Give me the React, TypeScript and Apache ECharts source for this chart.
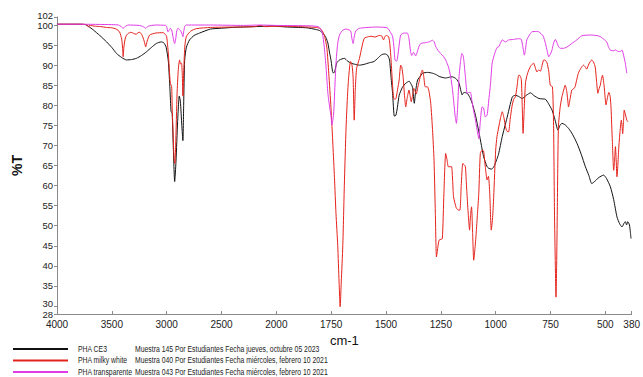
import React, { useEffect, useRef } from "react";
import * as echarts from "echarts";

// Axis tick labels
const xTickLabels = [4000, 3500, 3000, 2500, 2000, 1750, 1500, 1250, 1000, 750, 500, 380];
const yTickLabels = [30, 35, 40, 45, 50, 55, 60, 65, 70, 75, 80, 85, 90, 95, 100];
const yEndLabels = [28, 102];

// Legend
const seriesNames = ["PHA CE3", "PHA milky white", "PHA transparente"];
const seriesDetails = [
  "Muestra 145 Por Estudiantes Fecha jueves, octubre 05 2023",
  "Muestra 040 Por Estudiantes Fecha miércoles, febrero 10 2021",
  "Muestra 043 Por Estudiantes Fecha miércoles, febrero 10 2021",
];
const seriesColors = ["#111111", "#e4221c", "#e03ce6"];

// PHA CE3 (black)
const ce3Wave = [4000, 3900, 3800, 3740, 3710, 3670, 3610, 3548, 3500, 3457, 3410, 3366, 3320, 3276, 3230, 3185, 3140, 3094, 3050, 3027, 3005, 2985, 2970, 2960, 2950, 2940, 2927, 2915, 2900, 2885, 2875, 2862, 2852, 2845, 2836, 2820, 2791, 2750, 2700, 2600, 2500, 2400, 2300, 2200, 2100, 2034, 2000, 1950, 1900, 1860, 1820, 1802, 1785, 1774, 1765, 1757, 1750, 1744, 1739, 1733, 1725, 1712, 1690, 1675, 1660, 1640, 1621, 1600, 1576, 1555, 1538, 1520, 1505, 1493, 1484, 1477, 1470, 1462, 1455, 1448, 1440, 1425, 1410, 1394, 1385, 1379, 1371, 1365, 1356, 1340, 1334, 1310, 1288, 1270, 1258, 1240, 1228, 1210, 1198, 1180, 1167, 1158, 1153, 1145, 1130, 1118, 1107, 1092, 1077, 1065, 1055, 1040, 1032, 1020, 1009, 995, 987, 970, 950, 924, 910, 895, 879, 860, 841, 825, 803, 788, 773, 760, 743, 730, 720, 716, 708, 698, 685, 667, 650, 629, 610, 591, 575, 562, 545, 530, 508, 495, 477, 462, 447, 435, 424, 415, 409, 403, 398, 394, 390, 386, 383];
const ce3T = [100.2, 100.2, 100.2, 100.1, 99.6, 98.8, 97.4, 95.8, 94.4, 92.9, 91.9, 91.3, 91.4, 91.7, 92.4, 93.3, 94.4, 95.4, 95.8, 95.6, 94.5, 91, 84, 78.5, 78, 70, 61, 66, 76, 82.3, 81, 75, 71.2, 80, 91.2, 94.5, 96.3, 97.4, 98.0, 99.0, 99.2, 99.4, 99.5, 99.6, 99.7, 99.8, 99.7, 99.5, 99.4, 99.3, 98.9, 98.6, 97.8, 96.9, 95.5, 93, 91, 88.5, 88, 88.6, 90.5, 91.3, 91.7, 91, 90.5, 90.2, 90.0, 90.2, 90.6, 90.9, 91.7, 92.6, 92.8, 92.5, 91.3, 87, 83, 77.3, 77.5, 79.5, 82.5, 84.5, 85.5, 86, 85.2, 84.5, 80.5, 83.5, 86.3, 87.5, 88.0, 88.2, 88.0, 87.6, 87.2, 86.9, 86.8, 87.0, 87.1, 86.6, 85.5, 83.5, 82.6, 83.2, 83.0, 82, 80.5, 77.5, 73.5, 70, 67.2, 64.8, 64.3, 64.1, 64.6, 66.5, 67.8, 72.2, 76.5, 82.1, 82.5, 82.2, 81.7, 82.5, 83.1, 82.4, 81.7, 81.6, 81.5, 80.5, 78.8, 76.5, 74.3, 73.8, 74.9, 75.5, 75.2, 74.2, 72.8, 70.5, 67.8, 64.7, 62.5, 60.5, 61.2, 62.0, 62.6, 61.8, 59.7, 56.5, 52.2, 50.5, 49.7, 50.6, 51.0, 50.2, 51.0, 50.7, 50.2, 48.5, 46.8];

// PHA milky white (red)
const milkyWave = [4000, 3800, 3730, 3712, 3705, 3650, 3600, 3550, 3500, 3460, 3430, 3410, 3400, 3397, 3390, 3375, 3352, 3325, 3300, 3280, 3260, 3245, 3225, 3205, 3191, 3178, 3155, 3100, 3034, 3010, 3000, 2985, 2967, 2955, 2949, 2940, 2932, 2925, 2918, 2905, 2895, 2888, 2882, 2875, 2865, 2858, 2852, 2845, 2835, 2821, 2780, 2730, 2600, 2400, 2200, 2150, 2100, 2000, 1900, 1820, 1803, 1790, 1780, 1770, 1761, 1751, 1742, 1735, 1728, 1720, 1714, 1709, 1704, 1697, 1690, 1682, 1675, 1670, 1662, 1655, 1650, 1645, 1640, 1634, 1621, 1610, 1599, 1580, 1568, 1550, 1531, 1520, 1511, 1506, 1500, 1488, 1482, 1477, 1470, 1465, 1458, 1454, 1447, 1440, 1433, 1428, 1422, 1415, 1410, 1403, 1395, 1389, 1385, 1379, 1373, 1367, 1362, 1355, 1349, 1340, 1334, 1328, 1321, 1311, 1304, 1296, 1288, 1281, 1275, 1270, 1264, 1258, 1250, 1243, 1236, 1228, 1222, 1216, 1208, 1201, 1196, 1192, 1180, 1170, 1163, 1157, 1150, 1144, 1138, 1134, 1130, 1124, 1119, 1115, 1110, 1105, 1100, 1095, 1089, 1083, 1077, 1070, 1062, 1055, 1047, 1039, 1033, 1027, 1020, 1014, 1009, 1000, 994, 986, 978, 970, 962, 955, 948, 941, 934, 926, 918, 910, 903, 895, 889, 883, 879, 875, 870, 864, 857, 849, 840, 827, 820, 812, 804, 796, 788, 781, 773, 766, 758, 751, 741, 736, 732, 728, 725, 722, 719, 714, 706, 698, 690, 683, 676, 670, 668, 661, 653, 645, 638, 630, 623, 612, 600, 592, 585, 575, 562, 554, 546, 540, 534, 528, 523, 518, 513, 505, 497, 490, 484, 478, 474, 468, 462, 458, 454, 451, 447, 443, 439, 433, 427, 424, 421, 417, 414, 408, 402, 397];
const milkyT = [100.2, 100.2, 100.1, 99.5, 99.9, 99.7, 99.6, 99.4, 99.3, 99.0, 98.3, 96.5, 93.5, 92.1, 94.5, 97, 97.9, 98.2, 97.9, 97.7, 98.1, 98.2, 97.5, 96, 94.6, 96, 97.5, 98.0, 98.1, 97.6, 97.1, 93, 85.5, 84.7, 78.8, 72, 66.5, 65.5, 70, 83, 88.5, 90.5, 91.3, 90.3, 90.5, 88, 82.3, 88, 94.5, 97.1, 98.5, 99.1, 99.4, 99.5, 99.6, 99.9, 99.6, 99.7, 99.6, 99.4, 99.2, 98.5, 97.2, 94.5, 88, 79.5, 70, 62, 53, 45, 36, 29.8, 36, 45, 60, 74.6, 83, 87.1, 90.9, 90, 87, 76.3, 84, 89.2, 91.7, 94.5, 96.7, 97.1, 97.2, 97.0, 97.4, 97.3, 96.3, 97.0, 97.4, 97.1, 95, 91.3, 85, 81.7, 81.5, 81.8, 84, 86.3, 90.0, 89.5, 87.1, 82, 79.6, 82, 83.8, 82, 80.9, 82.5, 84.2, 83.5, 82.8, 84.5, 85.9, 88, 88.8, 87.2, 84.6, 84.6, 83.5, 80.5, 74, 66.3, 53, 42.2, 44.5, 46.4, 46.6, 46.8, 58, 68.0, 66.5, 64.7, 64.7, 64.7, 61, 57.2, 54.5, 53.9, 53.9, 60, 65.5, 65.2, 64.7, 61, 57.2, 52, 48.9, 52.5, 54.7, 48, 41.4, 44, 48.0, 53, 58, 68, 68.8, 68.6, 64.5, 61.4, 62.3, 58, 48.9, 52, 57.2, 68.8, 72.2, 74.6, 76.8, 78.4, 76.8, 74.6, 73.5, 73.4, 76.5, 79.6, 81.5, 82.1, 84.5, 87.5, 87.4, 86.4, 80, 73.0, 79, 85.6, 87.5, 88.8, 89.8, 90.5, 89.5, 88.3, 88.8, 88.5, 90, 91.3, 91.2, 90.6, 88.5, 85.0, 84.6, 75, 53.9, 40, 32.2, 40, 53.9, 74.6, 79.5, 82.1, 83.8, 85.0, 83.5, 80.5, 79.6, 81.5, 83.8, 84.1, 84.6, 86.5, 88.0, 89.2, 90.0, 89.6, 89.0, 90.3, 91.3, 90.8, 89.5, 86, 83.0, 84.2, 85.0, 86.5, 87.5, 84.5, 80.1, 82, 83.2, 82.2, 79.3, 71, 63.8, 66, 69.7, 67, 62.2, 65, 69.2, 73.5, 76.3, 75, 72.9, 76, 78.8, 77.6, 76.3, 75.9];

// PHA transparente (magenta)
const transWave = [4000, 3800, 3500, 3440, 3415, 3397, 3380, 3350, 3250, 3215, 3191, 3170, 3100, 3010, 3000, 2988, 2975, 2967, 2955, 2945, 2935, 2927, 2918, 2908, 2897, 2880, 2867, 2858, 2852, 2845, 2835, 2821, 2600, 2300, 2150, 2000, 1850, 1810, 1795, 1787, 1780, 1772, 1765, 1756, 1750, 1747, 1742, 1738, 1732, 1727, 1720, 1712, 1700, 1683, 1665, 1660, 1655, 1650, 1645, 1638, 1625, 1606, 1550, 1500, 1490, 1482, 1470, 1463, 1459, 1452, 1448, 1440, 1433, 1418, 1403, 1395, 1388, 1383, 1379, 1375, 1371, 1365, 1358, 1350, 1341, 1320, 1303, 1288, 1280, 1273, 1262, 1251, 1240, 1228, 1215, 1205, 1197, 1189, 1184, 1179, 1173, 1167, 1160, 1154, 1148, 1144, 1137, 1130, 1122, 1115, 1108, 1100, 1092, 1085, 1077, 1070, 1062, 1055, 1047, 1039, 1030, 1024, 1016, 1005, 994, 986, 978, 970, 962, 955, 948, 941, 920, 895, 883, 876, 869, 864, 858, 846, 835, 815, 803, 784, 773, 765, 758, 750, 743, 736, 728, 720, 713, 705, 690, 670, 653, 630, 608, 577, 562, 532, 517, 494, 486, 478, 470, 462, 454, 445, 439, 431, 424, 417, 409, 402];
const transT = [100.2, 100.2, 100.1, 100.0, 99.6, 99.2, 99.6, 100.0, 99.9, 99.6, 99.2, 99.7, 100.0, 99.9, 99.6, 98.3, 98.8, 99.2, 98.8, 97.5, 96, 95.4, 96.5, 98.5, 99.2, 98.8, 98.3, 97.6, 97.1, 98.3, 99.7, 100.0, 100.0, 99.9, 100.0, 99.9, 99.8, 99.6, 98.8, 97, 93.8, 88.5, 83, 79.2, 77, 75.1, 76.5, 78.5, 86, 91.3, 95.5, 97.5, 98.6, 99.0, 98.7, 98.3, 96.5, 95.4, 97, 98.5, 99.1, 99.3, 99.5, 99.4, 99.1, 98.4, 97.2, 94, 91.3, 91.0, 91.6, 95, 97.5, 98.0, 98.0, 96.5, 93.4, 92.4, 92.6, 93.2, 93.0, 92.3, 93.2, 94.6, 95.4, 95.6, 95.8, 96.2, 95.8, 94.6, 93.6, 92.9, 92.3, 91.3, 89.5, 87.1, 84, 79.6, 77, 75.5, 80, 87.1, 91, 92.9, 92.3, 90.6, 86.5, 83.0, 83.2, 83.2, 81, 78.5, 76.3, 74, 71.7, 76, 79.6, 79.3, 77.1, 77.6, 82, 85, 90.5, 92.8, 94.4, 94.6, 95.5, 96.3, 96, 95.8, 96, 96.3, 96.4, 96.6, 96.4, 94.5, 92.5, 94, 96.3, 97.5, 98.3, 98.4, 98.3, 97.3, 95.4, 93.5, 92.1, 92.8, 93.8, 95.5, 96.4, 95.5, 94.6, 94.2, 94.2, 94.7, 95.4, 96.3, 97.3, 97.5, 97.5, 97.3, 96.9, 95.8, 94.6, 93.8, 93.6, 93.6, 93.8, 93.5, 93.4, 93.4, 93.8, 92.5, 90.5, 88.0];

// Wavenumber axis: 500 cm-1 per division above 2000, 250 cm-1 per division below
function toPos(w: number): number {
  return w >= 2000 ? (4000 - w) / 500 : 4 + (2000 - w) / 250;
}
function fromPos(p: number): number {
  return p <= 4 ? 4000 - 500 * p : 2000 - 250 * (p - 4);
}

const seriesWaves = [ce3Wave, milkyWave, transWave];
const seriesTs = [ce3T, milkyT, transT];

const FONT = "'Liberation Sans', Arial, Helvetica, sans-serif";

export default function App() {
  const ref = useRef<HTMLDivElement>(null);
  useEffect(() => {
    if (!ref.current) return;
    const chart = echarts.init(ref.current, null, { renderer: "svg" });
    const xTicks = xTickLabels.map(toPos);
    const legendGraphics: any[] = [];
    const rowY = [349, 360.5, 372];
    const condense = 0.745;
    seriesNames.forEach((name, i) => {
      legendGraphics.push({
        type: "line",
        shape: { x1: 13, y1: rowY[i], x2: 68, y2: rowY[i] },
        style: { stroke: seriesColors[i], lineWidth: 2 },
      });
      legendGraphics.push({
        type: "text",
        x: 78,
        y: rowY[i],
        scaleX: condense,
        style: { text: name, fontSize: 9.2, fontFamily: FONT, fill: "#222", verticalAlign: "middle" },
      });
      legendGraphics.push({
        type: "text",
        x: 135,
        y: rowY[i],
        scaleX: condense,
        style: { text: seriesDetails[i], fontSize: 9.2, fontFamily: FONT, fill: "#222", verticalAlign: "middle" },
      });
    });
    const tokenStyle = { fontSize: 9.5, fontFamily: FONT, color: "#222" };
    const yRich = {
      n: { ...tokenStyle },
      up: { ...tokenStyle, padding: [0, 0, 4, 0] },
      dn: { ...tokenStyle, padding: [1, 0, 0, 0] },
    };
    const yLabelStyle = { margin: 4, fontSize: 9.5, fontFamily: FONT, color: "#222", hideOverlap: false, rich: yRich };
    chart.setOption({
      animation: false,
      backgroundColor: "#ffffff",
      grid: { left: 57, right: 10, top: 17, bottom: 63 },
      xAxis: {
        type: "value",
        min: 0,
        max: toPos(380),
        name: "cm-1",
        nameLocation: "middle",
        nameGap: 14,
        nameTextStyle: { fontSize: 13, fontFamily: FONT, color: "#111" },
        axisLine: { show: true, lineStyle: { color: "#8a8a8a", width: 1 } },
        axisTick: { show: true, inside: true, length: 3, customValues: xTicks, lineStyle: { color: "#8a8a8a" } },
        axisLabel: {
          customValues: xTicks,
          margin: 5,
          fontSize: 10,
          fontFamily: FONT,
          color: "#222",
          showMinLabel: true,
          showMaxLabel: true,
          hideOverlap: false,
          formatter: (v: number) => String(Math.round(fromPos(v))),
        },
        splitLine: { show: false },
      },
      yAxis: [
        {
          type: "value",
          min: 28,
          max: 102,
          name: "%T",
          nameLocation: "middle",
          nameGap: 33,
          nameTextStyle: { fontSize: 14, fontWeight: "bold", fontFamily: FONT, color: "#111" },
          axisLine: { show: true, lineStyle: { color: "#8a8a8a", width: 1 } },
          axisTick: { show: true, inside: false, length: 3, customValues: yTickLabels, lineStyle: { color: "#8a8a8a" } },
          axisLabel: {
            ...yLabelStyle,
            customValues: yTickLabels,
            formatter: (v: number) => (v === 30 ? "{up|30}" : "{n|" + v + "}"),
          },
          splitLine: { show: false },
        },
        {
          type: "value",
          position: "left",
          offset: 0,
          min: 28,
          max: 102,
          axisLine: { show: false },
          axisTick: { show: true, inside: false, length: 3, customValues: yEndLabels, lineStyle: { color: "#8a8a8a" } },
          axisLabel: {
            ...yLabelStyle,
            customValues: yEndLabels,
            showMinLabel: true,
            showMaxLabel: true,
            formatter: (v: number) => (v === 102 ? "{up|102}" : "{n|" + v + "}"),
          },
          splitLine: { show: false },
        },
      ],
      series: seriesNames.map((name, i) => ({
        name,
        type: "line",
        yAxisIndex: 0,
        showSymbol: false,
        smooth: 0.2,
        data: seriesWaves[i].map((w, j) => [toPos(w), seriesTs[i][j]]),
        lineStyle: { color: seriesColors[i], width: 1 },
        itemStyle: { color: seriesColors[i] },
      })),
      graphic: legendGraphics,
    });
    return () => chart.dispose();
  }, []);
  return <div ref={ref} style={{ position: "fixed", left: 0, top: 0, width: 643, height: 377 }} />;
}
